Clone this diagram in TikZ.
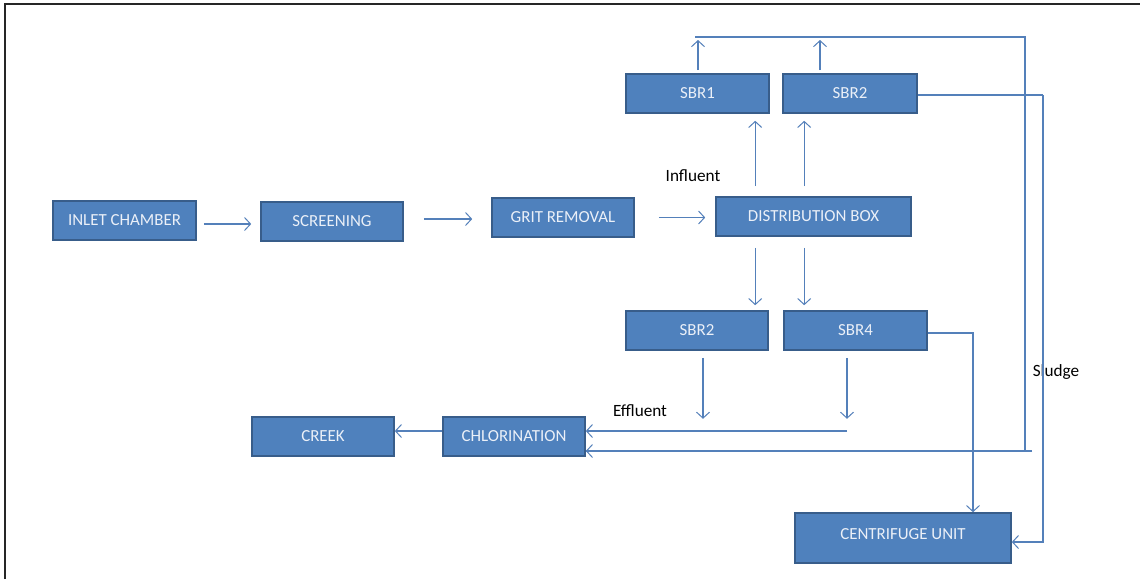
\documentclass[tikz,border=0pt]{standalone}
\usepackage{fontspec}
\setmainfont{Carlito}
\usetikzlibrary{arrows.meta,calc}
\definecolor{boxfill}{RGB}{79,129,189}
\definecolor{boxline}{RGB}{56,93,138}
\definecolor{conn}{RGB}{84,128,186}
\definecolor{boxtext}{RGB}{235,240,248}
\tikzset{
  unit/.style={draw=boxline, line width=1.6pt, fill=boxfill, text=boxtext,
    minimum height=39pt, inner sep=0pt, font=\fontsize{16.9}{19}\selectfont},
  arr/.style={draw=conn, line width=1.1pt, -{Straight Barb[length=6pt,width=13pt,line width=1pt]}},
  pipe/.style={draw=conn, line width=1.1pt},
  lbl/.style={text=black, font=\fontsize{17.2}{20}\selectfont, inner sep=0pt}
}
\begin{document}
\begin{tikzpicture}[x=1pt,y=-1pt]
\useasboundingbox (0,0) rectangle (1140,579);
\fill[white] (0,0) rectangle (1140,579);
% frame (only top and left visible)
\draw[line width=2pt, black!85] (5,579) -- (5,4) -- (1140,4);

% nodes
\node[unit, minimum width=143pt] (inlet) at (124.5,220.5) {INLET CHAMBER};
\node[unit, minimum width=142pt] (screen) at (332,221.5) {SCREENING};
\node[unit, minimum width=142pt] (grit) at (563,217.5) {GRIT REMOVAL};
\node[unit, minimum width=195pt] (dist) at (813.5,216.5) {DISTRIBUTION BOX};
\node[unit, minimum width=143pt] (sbra) at (697.5,93.5) {SBR1};
\node[unit, minimum width=134pt] (sbrb) at (850,93.5) {SBR2};
\node[unit, minimum width=142pt] (sbrc) at (697,330.5) {SBR2};
\node[unit, minimum width=143pt] (sbrd) at (855.5,330.5) {SBR4};
\node[unit, minimum width=142pt] (creek) at (323,436.5) {CREEK};
\node[unit, minimum width=142pt] (chlor) at (514,436.5) {CHLORINATION};
\node[unit, minimum width=216pt, minimum height=50pt] (centr) at (903,538) {\raisebox{7pt}{CENTRIFUGE UNIT}};

% labels
\node[lbl] (influent) at (693,176) {Influent};
\node[lbl] (effluent) at (640,411) {Effluent};
\node[lbl] (sludge) at (1056,372) {Sludge};

% coordinates
\coordinate (topL) at (695,37);
\coordinate (topR) at (1025,37);
\coordinate (sbRt) at (1043,95);
\coordinate (sdR) at (973,333);
\coordinate (effR) at (847,431);

% main line
\draw[arr, shorten <=7pt, shorten >=9pt] ($(inlet.east)+(0,3.5)$) -- ($(screen.west)+(0,2.5)$);
\draw[arr, shorten <=20pt, shorten >=19pt] ($(screen.east)+(0,-2.5)$) -- ($(grit.west)+(0,1.5)$);
\draw[arr, shorten <=24pt, shorten >=10pt] (grit.east) -- ($(dist.west)+(0,1)$);

% distribution box up / down
\draw[arr] ($(dist.north west)+(40,-10)$) -- ($(dist.north west |- sbra.south)+(40,7)$);
\draw[arr] ($(dist.north west)+(89,-10)$) -- ($(dist.north west |- sbrb.south)+(89,7)$);
\draw[arr] ($(dist.south west)+(40,11)$) -- ($(dist.south west |- sbrc.north)+(40,-5)$);
\draw[arr] ($(dist.south west)+(89,11)$) -- ($(dist.south west |- sbrd.north)+(89,-5)$);

% top SBRs up to collector
\draw[arr] ($(sbra.north)+(0.5,-3)$) -- ($(sbra.north |- topL)+(0.5,3)$);
\draw[arr] ($(sbrb.north)+(-30,-3)$) -- ($(sbrb.north |- topL)+(-30,3)$);
\draw[pipe] (topL) -- (topR) -- (topR |- 0,451);
\draw[arr] (1032,451) -- (chlor.east |- 0,451);

% SBR2 (top) to centrifuge
\draw[pipe] (sbrb.east |- sbRt) -- (sbRt);
\draw[arr] (sbRt) -- (sbRt |- 0,542) -- (centr.east |- 0,542);

% SBR4 to centrifuge
\draw[arr] (sbrd.east |- sdR) -- (sdR) -- (sdR |- centr.north);

% bottom SBRs down
\draw[arr] ($(sbrc.south)+(6,7)$) -- ($(sbrc.south)+(6,68)$);
\draw[arr] ($(sbrd.south)+(-8.5,7)$) -- ($(sbrd.south)+(-8.5,68)$);

% effluent to chlorination
\draw[arr] (effR) -- (chlor.east |- effR);
\draw[pipe] (633,451) -- (chlor.east |- 0,451);

% chlorination to creek
\draw[arr] ($(chlor.west)+(0,-5.5)$) -- ($(creek.east)+(0,-5.5)$);
\end{tikzpicture}
\end{document}
